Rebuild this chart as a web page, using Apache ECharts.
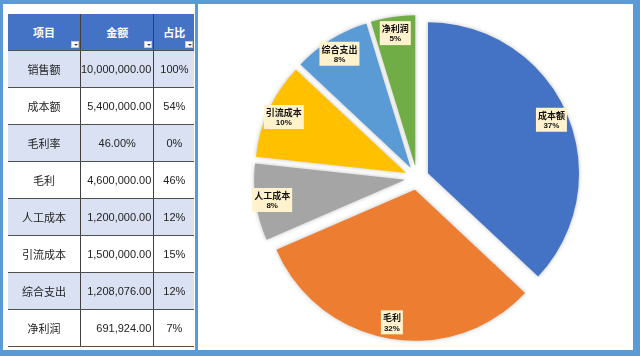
<!DOCTYPE html>
<html>
<head>
<meta charset="utf-8">
<script src="https://cdn.jsdelivr.net/npm/echarts@6.0.0/dist/echarts.min.js"></script>
<style>
  html, body { margin:0; padding:0; }
  body { width:640px; height:356px; position:relative; overflow:hidden; background:#5B9BD5; font-family:"Liberation Sans","Noto Sans CJK SC",Arial,sans-serif; }
  #left { position:absolute; left:3px; top:4px; width:192px; height:346px; background:#fff; }
  #right { position:absolute; left:198px; top:4px; width:435px; height:346px; background:#fff; }
  #chart { position:absolute; left:0; top:0; width:640px; height:356px; }
  #tbl { position:absolute; left:8px; top:14px; border-collapse:collapse; table-layout:fixed; font-size:11px; color:#222; }
  #tbl td, #tbl th { padding:0; height:36px; border-bottom:1px solid #505050; }
  #tbl th { background:#4472C4; color:#fff; font-weight:bold; position:relative; font-family:"Noto Sans CJK SC",sans-serif; font-size:11px; }
  #tbl .c1 { width:72px; border-right:1px solid #404040; text-align:center; font-family:"Noto Sans CJK SC",sans-serif; }
  #tbl .c2 { width:70px; border-right:1px solid #404040; text-align:right; padding-right:2px; }
  #tbl .c3 { width:40px; text-align:center; }
  #tbl th.c2 { text-align:center; padding-right:0; width:72px; }
  #tbl tr.odd td { background:#D9E1F2; }
  #tbl tr.even td { background:#fff; }
  .flt { position:absolute; right:1px; bottom:2px; width:8px; height:7px; background:#fff; border:1px solid #c8c8c8; box-sizing:border-box; }
  .flt:after { content:""; position:absolute; left:2px; top:2px; border-left:2px solid transparent; border-right:2px solid transparent; border-top:2px solid #444; }
</style>
</head>
<body>
<div id="left"></div>
<div id="right"></div>
<div id="chart"></div>
<table id="tbl"></table>
<script>
// ---- data ----
const headers = ['项目', '金额', '占比'];
const categories = ['销售额', '成本额', '毛利率', '毛利', '人工成本', '引流成本', '综合支出', '净利润'];
const amountLabels = ['10,000,000.00', '5,400,000.00', '46.00%', '4,600,000.00', '1,200,000.00', '1,500,000.00', '1,208,076.00', '691,924.00'];
const shareLabels = ['100%', '54%', '0%', '46%', '12%', '15%', '12%', '7%'];
const pieNames = ['成本额', '毛利', '人工成本', '引流成本', '综合支出', '净利润'];
const pieValues = [5400000, 4600000, 1200000, 1500000, 1208076, 691924];

// ---- table ----
const tbl = document.getElementById('tbl');
let html = '<tr>' + headers.map((h, i) => '<th class="c' + (i + 1) + '">' + h + '<span class="flt"></span></th>').join('') + '</tr>';
categories.forEach((c, i) => {
  const a = amountLabels[i];
  const centered = a.indexOf('%') >= 0;
  html += '<tr class="' + (i % 2 === 0 ? 'odd' : 'even') + '">' +
    '<td class="c1">' + c + '</td>' +
    '<td class="c2"' + (centered ? ' style="text-align:center;padding-right:0"' : '') + '>' + a + '</td>' +
    '<td class="c3">' + shareLabels[i] + '</td></tr>';
});
tbl.innerHTML = html;

// ---- chart ----
const chart = echarts.init(document.getElementById('chart'), null, { renderer: 'canvas' });
const R = 151;
const C = [417, 178];
const pieData = pieNames.map((n, i) => ({ name: n, value: pieValues[i], selected: true }));
chart.setOption({
  animation: false,
  color: ['#4472C4', '#ED7D31', '#A5A5A5', '#FFC000', '#5B9BD5', '#70AD47'],
  series: [
    {
      type: 'pie', center: C, radius: [0, R], startAngle: 90, clockwise: true,
      selectedMode: 'multiple', selectedOffset: 12, percentPrecision: 0,
      label: { show: false }, labelLine: { show: false },
      emphasis: { disabled: true },
      itemStyle: { shadowBlur: 4, shadowColor: 'rgba(0,0,0,0.25)' },
      select: { itemStyle: { shadowBlur: 4, shadowColor: 'rgba(0,0,0,0.25)', borderWidth: 0 } },
      data: pieData
    },
    {
      type: 'pie', center: C, radius: [Math.round(R * 0.74), R], startAngle: 90, clockwise: true,
      selectedMode: 'multiple', selectedOffset: 12, percentPrecision: 0, silent: true,
      itemStyle: { color: 'rgba(0,0,0,0)' },
      select: { itemStyle: { color: 'rgba(0,0,0,0)', borderWidth: 0 } },
      emphasis: { disabled: true },
      labelLine: { show: false },
      label: {
        show: true, position: 'inside', color: '#000',
        backgroundColor: '#FFF2CC', padding: [2, 2, 1, 2],
        formatter: '{n|{b}}\n{p|{d}%}',
        rich: {
          n: { fontSize: 9, fontWeight: 'bold', color: '#111', fontFamily: 'Noto Sans CJK SC', lineHeight: 11, align: 'center' },
          p: { fontSize: 8, fontWeight: 'bold', color: '#111', fontFamily: 'Liberation Sans', lineHeight: 10, align: 'center' }
        }
      },
      data: pieData
    }
  ]
});
</script>
</body>
</html>
